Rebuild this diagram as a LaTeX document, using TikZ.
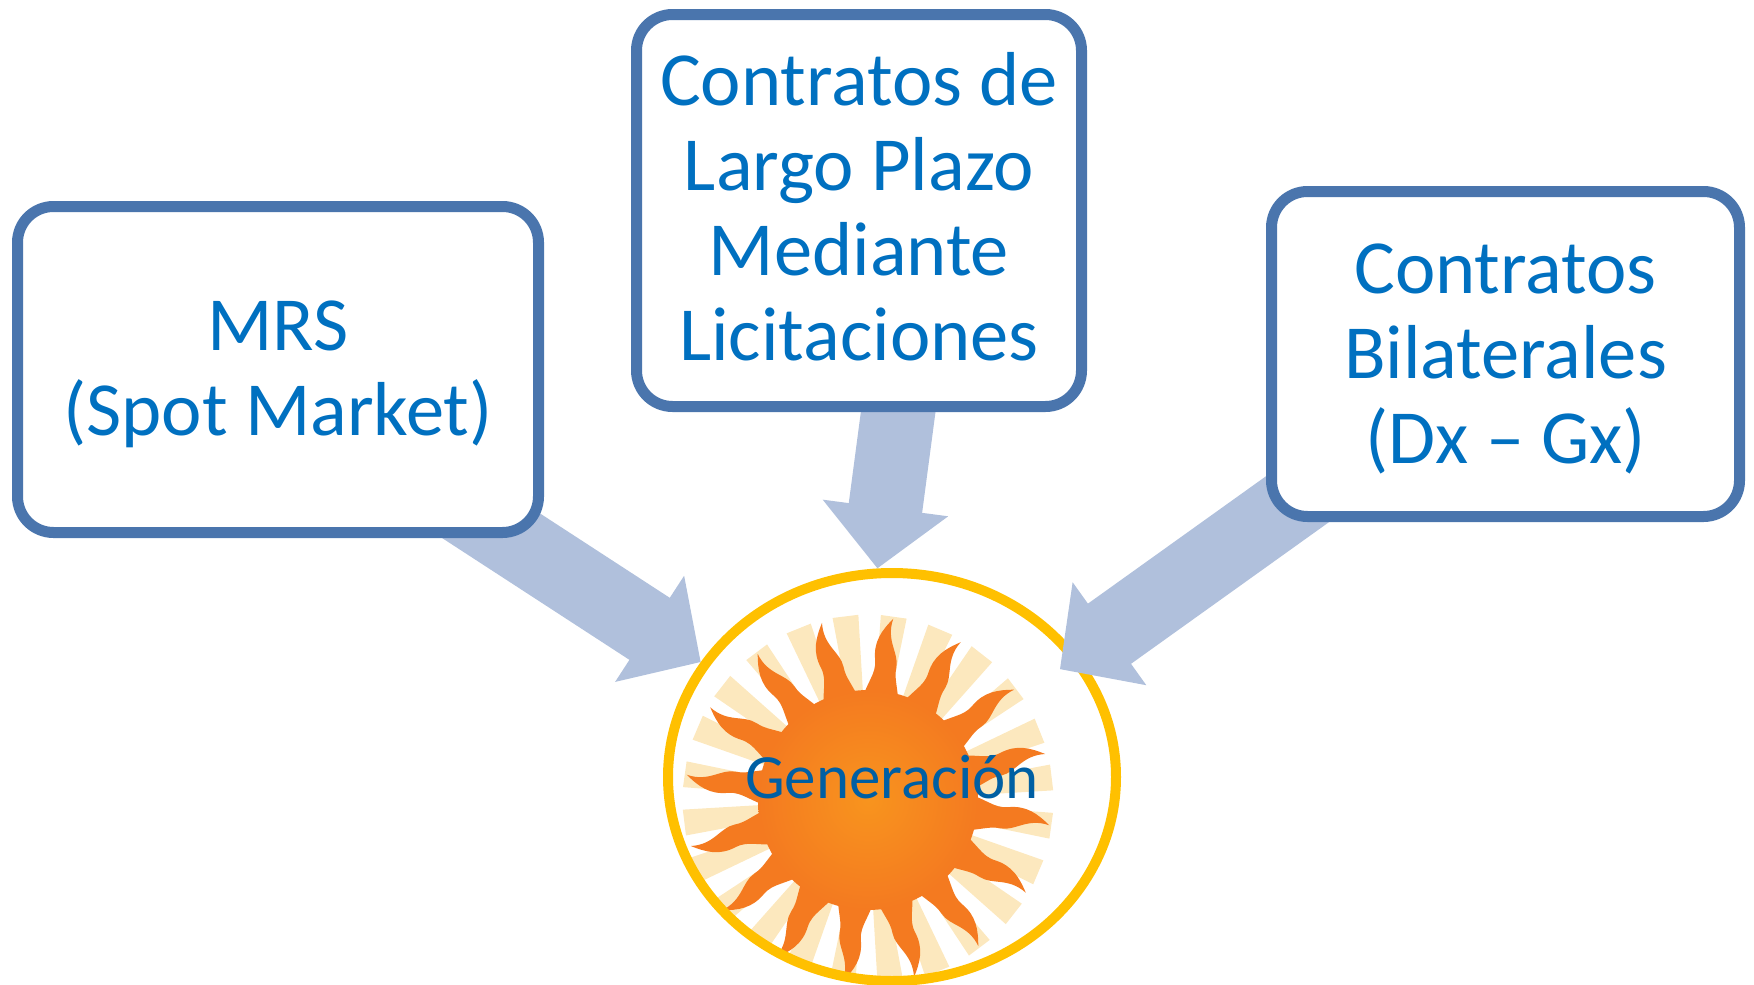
\documentclass[tikz,border=0pt]{standalone}
\usepackage{fontspec}
\setmainfont{Carlito}
\definecolor{BoxBlue}{RGB}{74, 117, 173}
\definecolor{TextBlue}{RGB}{0, 112, 192}
\definecolor{ArrowBlue}{RGB}{176, 192, 220}
\definecolor{RingGold}{RGB}{255, 192, 0}
\definecolor{SunOrange}{RGB}{244, 122, 32}
\definecolor{SunCore}{RGB}{248, 148, 30}
\definecolor{RayPale}{RGB}{252, 232, 190}
\usetikzlibrary{arrows.meta, shapes.geometric, backgrounds}
\tikzset{
    marketbox/.style={draw=BoxBlue, fill=white, line width=11pt, rounded corners=36pt, align=center,
        inner sep=0pt, text=TextBlue, font=\fontsize{76.5}{85}\selectfont},
    bigarrow/.style={draw=ArrowBlue, line width=74pt, -{Triangle[length=61pt, width=123pt]}},
    sunray/.style={fill=RayPale},
    sunflame/.style={fill=SunOrange}
}

\begin{document}
\begin{tikzpicture}[x=1pt, y=-1pt]
    \useasboundingbox (0,0) rectangle (1754,985);

    % Market boxes
    \node[marketbox, minimum width=521pt, minimum height=326pt] (mrs) at (278,369.5) {\rule{0pt}{60pt}MRS\\(Spot Market)};
    \node[marketbox, minimum width=445pt, minimum height=392pt] (licitaciones) at (859,210.5) {Contratos de\\Largo Plazo\\Mediante\\\rule[-9pt]{0pt}{9pt}Licitaciones};
    \node[marketbox, minimum width=468pt, minimum height=325pt] (bilaterales) at (1505.5,354) {\rule{0pt}{60pt}Contratos\\Bilaterales\\(Dx -- Gx)};

    \begin{scope}[on background layer]
        % Sun picture
        \begin{scope}
            \clip (892,777) ellipse [x radius=224, y radius=204];
            \foreach \a in {0,15,...,345} {
                \fill[sunray, shift={(868,800)}, rotate=\a+7] (90,-7) -- (185,-13) -- (185,13) -- (90,7) -- cycle;
            }
            \foreach \a in {0,22.5,...,337.5} {
                \fill[sunflame, shift={(868,800)}, rotate=\a+83]
                    (90,20) .. controls (118,16) and (122,11) .. (135,12)
                    .. controls (150,13) and (160,-2) .. (183,3)
                    .. controls (170,-7) and (158,-14) .. (140,-10)
                    .. controls (125,-7) and (118,-16) .. (90,-20) -- cycle;
            }
            \shade[inner color=SunCore, outer color=SunOrange] (868,800) circle [radius=110];
        \end{scope}

        % Generation node
        \node[draw=RingGold, line width=10pt, ellipse, inner sep=0pt, minimum width=448pt, minimum height=408pt,
            text=TextBlue!85!black, font=\fontsize{63}{68}\selectfont] (gen) at (892,777) {Generación};

        % Arrows into generation
        \draw[bigarrow, shorten <=-60pt] (mrs.-36) -- (gen.149.5);
        \draw[bigarrow, shorten <=-30pt] (licitaciones.-79) -- (gen.94);
        \draw[bigarrow, shorten <=-60pt, shorten >=-23pt] (bilaterales.215) -- (gen.33.5);
    \end{scope}
\end{tikzpicture}
\end{document}
